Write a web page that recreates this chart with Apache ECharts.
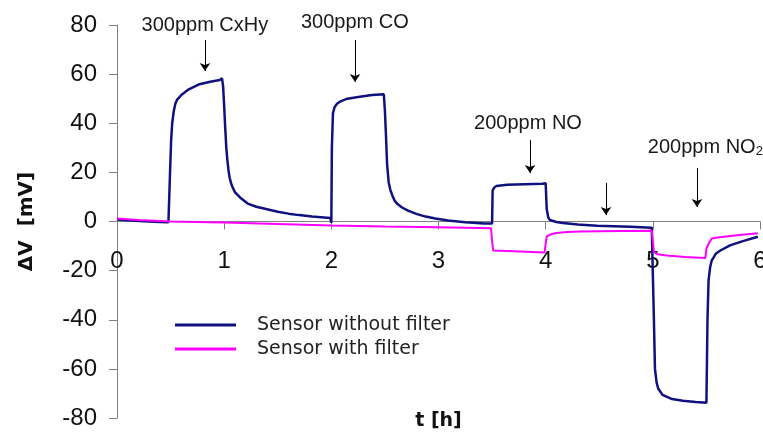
<!DOCTYPE html>
<html>
<head>
<meta charset="utf-8">
<script src="https://cdn.jsdelivr.net/npm/echarts@6/dist/echarts.min.js"></script>
<style>
  html, body { margin: 0; padding: 0; background: #fff; }
  #chart { width: 763px; height: 436px; }
</style>
</head>
<body>
<div id="chart"></div>
<script>
// Sensor response (mV) over time (h) for the unfiltered sensor
const rawTime = [0, 0.1, 0.25, 0.4, 0.48, 0.49, 0.495, 0.505, 0.515, 0.53, 0.545, 0.56, 0.6, 0.67, 0.77, 0.87, 0.96, 0.98,
  0.99, 1.0, 1.01, 1.02, 1.03, 1.04, 1.05, 1.065, 1.08, 1.1, 1.15, 1.22, 1.3, 1.38, 1.5, 1.6, 1.7, 1.82, 1.99, 2.0,
  2.005, 2.015, 2.03, 2.05, 2.08, 2.15, 2.25, 2.38, 2.49, 2.5, 2.51, 2.52, 2.535, 2.55, 2.57, 2.59, 2.62, 2.66, 2.72, 2.8, 2.88, 2.97, 3.09, 3.25, 3.43, 3.5,
  3.505, 3.52, 3.54, 3.64, 3.8, 3.97, 4.0, 4.01, 4.025, 4.04, 4.1, 4.16, 4.3, 4.48, 4.79, 4.99, 5.0,
  5.01, 5.02, 5.035, 5.05, 5.09, 5.18, 5.28, 5.4, 5.5, 5.51, 5.52, 5.535, 5.55, 5.59, 5.63, 5.72, 5.84, 5.98];
const rawValue = [0.8, 0.5, 0.1, -0.2, -0.3, 0, 20, 33, 40, 45, 48, 49.5, 51.5, 53.8, 55.9, 56.9, 57.6, 58.3,
  55, 47, 38, 30, 25, 21, 18, 15.5, 13.8, 12, 9.7, 7.3, 6, 5.2, 4, 3.2, 2.6, 2, 1.4, -0.5,
  30, 44, 46.5, 47.8, 48.8, 50, 50.7, 51.5, 51.8, 45, 35, 23.5, 16, 13, 10.5, 8.5, 7, 5.7, 4.3, 3.0, 2.0, 1.2, 0.4, -0.3, -0.8, -0.8,
  12.6, 13.8, 14.5, 15, 15.2, 15.4, 15.6, 5, 1.5, 0.6, -0.2, -0.6, -1.2, -1.7, -2.1, -2.5, -2.8,
  -40, -60, -65.5, -68, -70.6, -72.3, -73, -73.5, -73.8, -40, -24, -18.5, -15.8, -13, -11.8, -9.7, -8, -6.2];

// Sensor response (mV) over time (h) with the filter fitted
const filteredTime = [0, 0.2, 0.5, 1.0, 1.5, 2.0, 2.5, 3.0, 3.49, 3.5, 3.51, 3.7, 3.99,
  4.0, 4.01, 4.05, 4.1, 4.2, 4.32, 4.7, 4.99, 5.0, 5.01, 5.04, 5.13, 5.3, 5.49,
  5.5, 5.52, 5.55, 5.6, 5.66, 5.81, 5.98];
const filteredValue = [1.2, 0.6, 0, -0.4, -1.0, -1.6, -2.0, -2.3, -2.7, -8, -11.8, -12.1, -12.6,
  -9, -6.1, -5.2, -4.7, -4.3, -4.1, -3.9, -3.8, -8, -12.3, -13.3, -13.8, -14.5, -14.9,
  -11, -9, -6.9, -6.5, -6.2, -5.5, -4.8];

// Gas exposure annotations: label text and anchor (t, mV)
const gasLabels = ['300ppm CxHy', '300ppm CO', '200ppm NO', '200ppm NO{sub|2}'];
const gasLabelTime = [0.82, 2.22, 3.835, 5.49];
const gasLabelValue = [80, 81, 40, 30];

// Arrows pointing at each exposure: t, start value, tip value
const arrowTime = [0.821, 2.221, 3.854, 4.563, 5.412];
const arrowFrom = [73.9, 73.9, 33.2, 15.7, 21.8];
const arrowTo = [61.3, 56.8, 19.7, 2.6, 5.9];

const seriesNames = ['Sensor without filter', 'Sensor with filter'];

const pairs = (xs, ys) => xs.map((x, i) => [x, ys[i]]);

const chart = echarts.init(document.getElementById('chart'), null, { renderer: 'canvas' });

const axisGray = '#808080';
const Y_MIN = -80;
const Y_MAX = 80;
const GRID_TOP = 25;
const GRID_BOTTOM = 18;
const plotHeight = 436 - GRID_TOP - GRID_BOTTOM;
// the time axis runs along the zero line, so shift it up from the grid bottom
const zeroShift = plotHeight * (0 - Y_MIN) / (Y_MAX - Y_MIN);

chart.setOption({
  animation: false,
  backgroundColor: '#ffffff',
  grid: { left: 117, right: 3, top: GRID_TOP, bottom: GRID_BOTTOM, containLabel: false, outerBoundsMode: 'none' },
  legend: {
    data: seriesNames,
    orient: 'vertical',
    left: 175,
    top: 314,
    padding: 0,
    itemGap: 2,
    itemWidth: 61,
    itemHeight: 3,
    icon: 'rect',
    selectedMode: false,
    textStyle: {
      fontFamily: 'DejaVu Sans',
      fontSize: 19,
      color: '#222',
      lineHeight: 22,
      padding: [0, 0, 0, 16]
    }
  },
  xAxis: {
    type: 'value',
    position: 'bottom',
    offset: -zeroShift,
    min: 0,
    max: 6,
    interval: 1,
    name: 't [h]',
    nameLocation: 'middle',
    nameGap: 190,
    nameTextStyle: { fontFamily: 'DejaVu Sans', fontWeight: 'bold', fontSize: 19, color: '#111' },
    axisLine: { onZero: false, lineStyle: { color: axisGray, width: 1 } },
    axisTick: { show: true, inside: false, length: 8, lineStyle: { color: axisGray } },
    axisLabel: {
      margin: 28,
      fontFamily: 'Liberation Sans',
      fontSize: 24,
      color: '#111'
    },
    splitLine: { show: false }
  },
  yAxis: {
    type: 'value',
    min: Y_MIN,
    max: Y_MAX,
    interval: 20,
    name: 'ΔV  [mV]',
    nameLocation: 'middle',
    nameRotate: 90,
    nameGap: 80,
    nameTextStyle: { fontFamily: 'DejaVu Sans', fontWeight: 'bold', fontSize: 20, color: '#111' },
    axisLine: { show: true, onZero: false, lineStyle: { color: axisGray, width: 1 } },
    axisTick: { show: true, inside: false, length: 8, lineStyle: { color: axisGray } },
    axisLabel: { margin: 20, fontFamily: 'Liberation Sans', fontSize: 24, color: '#111' },
    splitLine: { show: false }
  },
  series: [
    {
      name: seriesNames[0],
      type: 'line',
      data: pairs(rawTime, rawValue),
      showSymbol: false,
      symbol: 'none',
      color: '#10107f',
      lineStyle: { color: '#10107f', width: 2.5 },
      z: 3
    },
    {
      name: seriesNames[1],
      type: 'line',
      data: pairs(filteredTime, filteredValue),
      showSymbol: false,
      symbol: 'none',
      color: '#ff00ff',
      lineStyle: { color: '#ff00ff', width: 2 },
      z: 4
    },
    {
      name: 'gas exposures',
      type: 'scatter',
      silent: true,
      clip: false,
      symbol: 'circle',
      symbolSize: 2,
      itemStyle: { color: 'rgba(0,0,0,0)' },
      data: gasLabels.map((text, i) => ({ value: [gasLabelTime[i], gasLabelValue[i]], name: text })),
      label: {
        show: true,
        position: 'inside',
        formatter: p => p.name,
        fontFamily: 'Liberation Sans',
        fontSize: 20,
        color: '#1a1a1a',
        textBorderWidth: 0,
        opacity: 1,
        rich: {
          sub: { fontFamily: 'Liberation Sans', fontSize: 13, color: '#1a1a1a', textBorderWidth: 0, verticalAlign: 'bottom', lineHeight: 12 }
        }
      },
      labelLayout: { hideOverlap: false },
      markLine: {
        silent: true,
        symbol: ['none', 'arrow'],
        symbolSize: 8,
        label: { show: false },
        lineStyle: { color: '#000', width: 1, type: 'solid' },
        emphasis: { disabled: true },
        data: arrowTime.map((t, i) => [{ coord: [t, arrowFrom[i]] }, { coord: [t, arrowTo[i]] }])
      },
      z: 5
    }
  ]
});
</script>
</body>
</html>
